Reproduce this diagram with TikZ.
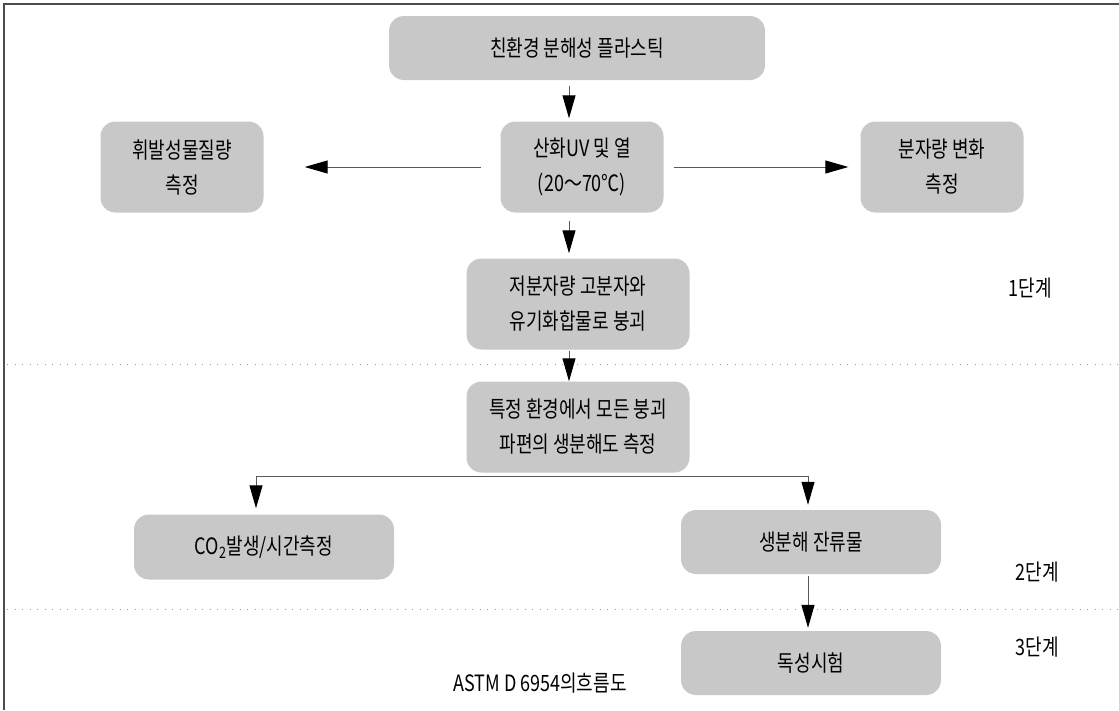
\documentclass[tikz,border=0pt]{standalone}
\usepackage{fontspec}
\setmainfont{Noto Sans CJK KR}[FakeStretch=0.8]
\usetikzlibrary{arrows.meta, positioning, calc}
\definecolor{boxgray}{RGB}{200,200,200}
\tikzset{
    flowbox/.style={rectangle, fill=boxgray, rounded corners=15pt, align=center, inner sep=0pt, font=\fontsize{22.5}{35}\selectfont},
    arrow/.style={-{Triangle[length=23pt, width=13pt, black]}, draw=black!65, line width=1pt},
    stage/.style={font=\fontsize{22.5}{35}\selectfont},
    sep/.style={draw=black!40, line width=1pt, dash pattern=on 1pt off 6.5pt}
}

\begin{document}
\begin{tikzpicture}[x=1pt, y=-1pt]
    \useasboundingbox (0,0) rectangle (1119,710);
    % frame
    \draw[black!70, line width=1.3pt] (4,710) -- (4,4) -- (1119,4);

    % stage 1
    \node[flowbox, minimum width=376pt, minimum height=64pt] (plastic) at (577,48) {친환경 분해성 플라스틱};
    \node[flowbox, minimum width=163pt, minimum height=91pt] (oxid) at (582,167) {산화UV 및 열\\(20～70℃)};
    \node[flowbox, minimum width=163pt, minimum height=91pt] (volat) at (182,167) {휘발성물질량\\측정};
    \node[flowbox, minimum width=163pt, minimum height=91pt] (molwt) at (942,167) {분자량 변화\\측정};
    \node[flowbox, minimum width=223pt, minimum height=91pt] (breakup) at (578,304) {저분자량 고분자와\\유기화합물로 붕괴};
    \node[stage] (st1) at (1030,288) {1단계};

    % stage 2
    \node[flowbox, minimum width=223pt, minimum height=91pt] (frag) at (578,427) {특정 환경에서 모든 붕괴\\파편의 생분해도 측정};
    \node[flowbox, minimum width=260pt, minimum height=65pt] (co2) at (264,547) {CO\textsubscript{2}발생/시간측정};
    \node[flowbox, minimum width=260pt, minimum height=64pt] (resid) at (811,542) {생분해 잔류물};
    \node[stage] (st2) at (1037,572) {2단계};

    % stage 3
    \node[flowbox, minimum width=260pt, minimum height=64pt] (toxic) at (811,663) {독성시험};
    \node[stage] (st3) at (1037,647) {3단계};
    \node[stage] (title) at (540,683) {ASTM D 6954의흐름도};

    % stage separators
    \draw[sep] (7,364) -- (1119,364);
    \draw[sep] (7,609) -- (1119,609);

    % connectors
    \coordinate (spine) at (569,0);
    \coordinate (split) at ($(frag.south)+(0,4)$);
    \draw[arrow, shorten <=6pt, shorten >=3pt] (plastic.south -| spine) -- (oxid.north -| spine);
    \draw[arrow, shorten <=19pt, shorten >=41pt] (oxid.west) -- (volat.east);
    \draw[arrow, shorten <=10pt, shorten >=12pt] (oxid.east) -- (molwt.west);
    \draw[arrow, shorten <=8pt, shorten >=5pt] (oxid.south -| spine) -- (breakup.north -| spine);
    \draw[arrow, shorten <=1pt, shorten >=0pt] (breakup.south -| spine) -- (frag.north -| spine);
    \draw[arrow, shorten >=6pt] (split) -| ([xshift=-8pt]co2.north);
    \draw[arrow, shorten >=5pt] (split) -| ([xshift=-3pt]resid.north);
    \draw[arrow, shorten <=2pt, shorten >=3pt] ([xshift=-3pt]resid.south) -- ([xshift=-3pt]toxic.north);
\end{tikzpicture}
\end{document}
